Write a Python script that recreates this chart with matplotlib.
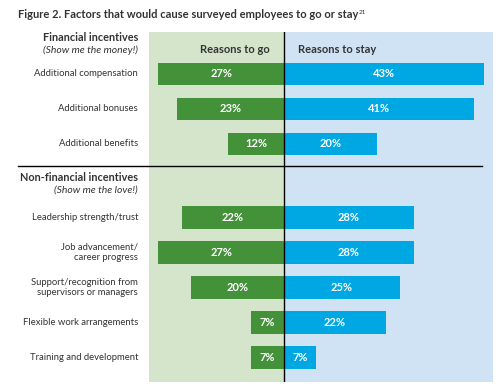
import matplotlib
matplotlib.use("Agg")
import matplotlib.pyplot as plt
import matplotlib.transforms as mtransforms

plt.rcParams['font.family'] = ['Lato', 'DejaVu Sans']

# Data
labels = ["Additional compensation", "Additional bonuses", "Additional benefits",
          "Leadership strength/trust", "Job advancement/\ncareer progress",
          "Support/recognition from\nsupervisors or managers",
          "Flexible work arrangements", "Training and development"]
go_pct = [27, 23, 12, 22, 27, 20, 7, 7]
stay_pct = [43, 41, 20, 28, 28, 25, 22, 7]

# Row positions (two groups with a gap)
ypos = [0, 1, 2, 4.1, 5.1, 6.1, 7.1, 8.1]

green = '#43923a'
blue = '#00a8e3'
green_bg = '#d5e5cc'
blue_bg = '#d0e3f5'
text_col = '#333333'

fig = plt.figure(figsize=(5.03, 3.88), dpi=100)
ax = fig.add_axes([149/503, 6/388, 344/503, 350/388])
ax.set_xlim(-29, 45)
ax.set_ylim(8.8, -1.2)
ax.axis('off')

# backgrounds
ax.axvspan(-29, 0, color=green_bg, zorder=0)
ax.axvspan(0, 45, color=blue_bg, zorder=0)

ax.barh(ypos, [-v for v in go_pct], height=0.63, color=green, zorder=2)
ax.barh(ypos, stay_pct, height=0.63, color=blue, zorder=2)
ax.axvline(0, color='black', lw=1, zorder=3)

for y, g, s in zip(ypos, go_pct, stay_pct):
    ax.text(-g / 2, y, f"{g}%", color='white', fontweight='bold', fontsize=8,
            ha='center', va='center', zorder=4)
    ax.text(s / 2, y, f"{s}%", color='white', fontweight='bold', fontsize=8,
            ha='center', va='center', zorder=4)

# column headers
ax.text(-3, -0.69, "Reasons to go", ha='right', va='center', fontsize=8,
        fontweight='bold', color=text_col)
ax.text(3, -0.69, "Reasons to stay", ha='left', va='center', fontsize=8,
        fontweight='bold', color=text_col)

# left labels
trans = mtransforms.blended_transform_factory(fig.transFigure, ax.transData)
lx = 138 / 503
for y, lab in zip(ypos, labels):
    ax.text(lx, y, lab, transform=trans, ha='right', va='center', fontsize=6.8,
            color=text_col, linespacing=1.25)

ax.text(lx, -1.03, "Financial incentives", transform=trans, ha='right', va='center',
        fontsize=7.8, fontweight='bold', color=text_col)
ax.text(lx, -0.69, "(Show me the money!)", transform=trans, ha='right', va='center',
        fontsize=7.5, style='italic', color=text_col)
ax.text(lx, 2.97, "Non-financial incentives", transform=trans, ha='right', va='center',
        fontsize=7.8, fontweight='bold', color=text_col)
ax.text(lx, 3.31, "(Show me the love!)", transform=trans, ha='right', va='center',
        fontsize=7.5, style='italic', color=text_col)

# divider between groups
ax.plot([18/503, 482/503], [2.63, 2.63], transform=trans, color='black', lw=1,
        clip_on=False, zorder=3)

# title
t = fig.text(18/503, 1 - 15/388, "Figure 2. Factors that would cause surveyed employees to go or stay",
             ha='left', va='center', fontsize=8, fontweight='bold', color=text_col)
fig.canvas.draw()
bb = t.get_window_extent()
fig.text(bb.x1 / fig.bbox.width, 1 - 12/388, "21", ha='left', va='center',
         fontsize=4.5, color=text_col)

fig.savefig("out.png", dpi=100)
